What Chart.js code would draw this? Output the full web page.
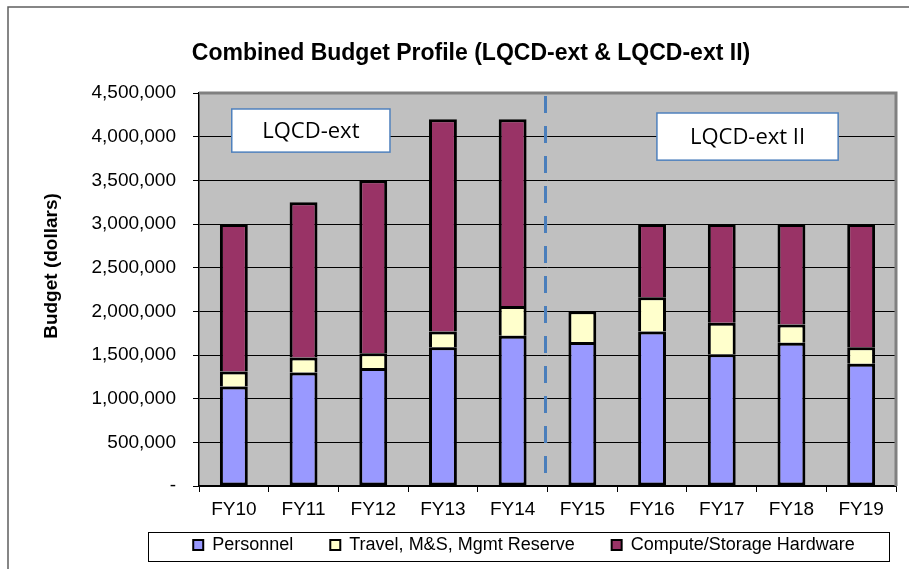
<!DOCTYPE html>
<html>
<head>
<meta charset="utf-8">
<script src="https://cdn.jsdelivr.net/npm/chart.js@4"></script>
<style>
  html, body { margin: 0; padding: 0; background: #fff; }
  #wrap { width: 909px; height: 569px; }
</style>
</head>
<body>
<div id="wrap"><canvas id="budget-chart"></canvas></div>
<script>
const years = ['FY10', 'FY11', 'FY12', 'FY13', 'FY14', 'FY15', 'FY16', 'FY17', 'FY18', 'FY19'];
const personnel = [1140000, 1300000, 1350000, 1590000, 1720000, 1650000, 1770000, 1510000, 1640000, 1400000];
const travel = [170000, 170000, 170000, 180000, 340000, 350000, 390000, 360000, 210000, 190000];
const hardware = [1690000, 1780000, 1980000, 2430000, 2140000, 0, 840000, 1130000, 1150000, 1410000];

Chart.defaults.font.family = "'Liberation Sans', Arial, sans-serif";
Chart.defaults.color = '#000';

// frame, plot background, titles, divider and the two project labels
const decorations = {
    id: 'decorations',
    afterLayout(chart) {
        // centre the legend under the legend frame instead of the whole canvas
        const lg = chart.legend;
        lg.left = 152;
        lg.width = lg.right - lg.left;
    },
    beforeDraw(chart) {
        const ctx = chart.ctx;
        const a = chart.chartArea;
        ctx.save();
        ctx.fillStyle = '#c0c0c0';
        ctx.fillRect(a.left, a.top, a.right - a.left, a.bottom - a.top);
        ctx.strokeStyle = '#5f5f5f';
        ctx.lineWidth = 1.5;
        ctx.beginPath();
        ctx.moveTo(8, chart.height);
        ctx.lineTo(8, 7);
        ctx.lineTo(chart.width, 7);
        ctx.stroke();
        ctx.restore();
    },
    beforeDatasetsDraw(chart) {
        const ctx = chart.ctx;
        const a = chart.chartArea;
        const x = chart.scales.x;
        ctx.save();
        ctx.strokeStyle = '#808080';
        ctx.lineWidth = 3;
        ctx.beginPath();
        ctx.moveTo(a.left, a.top);
        ctx.lineTo(a.right, a.top);
        ctx.lineTo(a.right, a.bottom);
        ctx.stroke();

        // dashed divider between FY14 and FY15
        const dx = (x.getPixelForValue(4) + x.getPixelForValue(5)) / 2 - 2;
        ctx.strokeStyle = '#4a7ebb';
        ctx.lineWidth = 3;
        ctx.setLineDash([17, 13]);
        ctx.beginPath();
        ctx.moveTo(dx, a.top + 3);
        ctx.lineTo(dx, a.bottom);
        ctx.stroke();
        ctx.restore();
    },
    afterDatasetsDraw(chart, args, opts) {
        const ctx = chart.ctx;
        const x = chart.scales.x;
        const y = chart.scales.y;
        const step = x.getPixelForValue(1) - x.getPixelForValue(0);
        ctx.save();
        opts.boxes.forEach(b => {
            const l = x.getPixelForValue(0) + b.x0 * step;
            const r = x.getPixelForValue(0) + b.x1 * step;
            const t = y.getPixelForValue(b.y1);
            const btm = y.getPixelForValue(b.y0);
            ctx.fillStyle = '#fff';
            ctx.fillRect(l, t, r - l, btm - t);
            ctx.strokeStyle = '#4f81bd';
            ctx.lineWidth = 1.5;
            ctx.strokeRect(l, t, r - l, btm - t);
            ctx.fillStyle = '#000';
            ctx.font = "22px 'Open Sans'";
            ctx.textAlign = 'center';
            ctx.textBaseline = 'middle';
            ctx.fillText(b.text, (l + r) / 2, (t + btm) / 2 + 1);
        });

        // chart title
        ctx.font = "bold 23px 'Liberation Sans'";
        ctx.textAlign = 'center';
        ctx.textBaseline = 'middle';
        ctx.fillText('Combined Budget Profile (LQCD-ext & LQCD-ext II)', 471, 54);

        // y axis title
        ctx.translate(52, 266);
        ctx.rotate(-Math.PI / 2);
        ctx.font = "bold 19px 'Liberation Sans'";
        ctx.fillText('Budget (dollars)', 0, 0);
        ctx.restore();
    },
    afterDraw(chart) {
        const ctx = chart.ctx;
        const a = chart.chartArea;
        const lg = chart.legend;
        ctx.save();
        ctx.strokeStyle = '#000';
        ctx.lineWidth = 1;
        ctx.strokeRect(a.left - 50.5, lg.top + 6.5, a.right - a.left + 44, 29);
        ctx.restore();
    }
};

const barStyle = { borderColor: '#000', borderWidth: 3 };

new Chart(document.getElementById('budget-chart'), {
    type: 'bar',
    data: {
        labels: years,
        datasets: [
            { label: 'Personnel', data: personnel, backgroundColor: '#9999ff', borderSkipped: false, ...barStyle },
            { label: 'Travel, M&S, Mgmt Reserve', data: travel, backgroundColor: '#ffffcc', borderSkipped: 'bottom', ...barStyle },
            { label: 'Compute/Storage Hardware', data: hardware, backgroundColor: '#993366', borderSkipped: 'bottom', ...barStyle }
        ]
    },
    options: {
        responsive: true,
        maintainAspectRatio: false,
        animation: false,
        layout: { padding: { top: 93, right: 13, left: 0, bottom: 5 } },
        datasets: { bar: { barPercentage: 0.4, categoryPercentage: 1, inflateAmount: 0 } },
        scales: {
            x: {
                stacked: true,
                afterFit: s => { s.height = 40; },
                grid: { offset: true, drawOnChartArea: false, tickLength: 6, color: '#000' },
                border: { color: '#000', width: 1.5 },
                ticks: { font: { size: 19 }, padding: 6 }
            },
            y: {
                stacked: true,
                min: 0,
                max: 4500000,
                afterFit: s => { s.width = 199; },
                grid: { color: '#000', lineWidth: 1, tickLength: 6 },
                border: { color: '#000', width: 1.5 },
                ticks: {
                    stepSize: 500000,
                    font: { size: 19 },
                    padding: 17,
                    callback: v => v === 0 ? '-' : v.toLocaleString('en-US')
                }
            }
        },
        plugins: {
            tooltip: { enabled: false },
            legend: {
                position: 'bottom',
                labels: {
                    boxWidth: 10,
                    boxHeight: 10,
                    padding: 10,
                    font: { size: 18 },
                    generateLabels: chart => {
                        const items = Chart.defaults.plugins.legend.labels.generateLabels(chart);
                        items.forEach((it, i) => {
                            it.lineWidth = 2;
                            if (i < items.length - 1) it.text = it.text + '\u2002\u2002\u2002';
                        });
                        return items;
                    }
                }
            },
            decorations: {
                boxes: [
                    { text: 'LQCD-ext', x0: -0.03, x1: 2.24, y0: 3823000, y1: 4317000 },
                    { text: 'LQCD-ext II', x0: 6.07, x1: 8.67, y0: 3731000, y1: 4271000 }
                ]
            }
        }
    },
    plugins: [decorations]
});
</script>
</body>
</html>
